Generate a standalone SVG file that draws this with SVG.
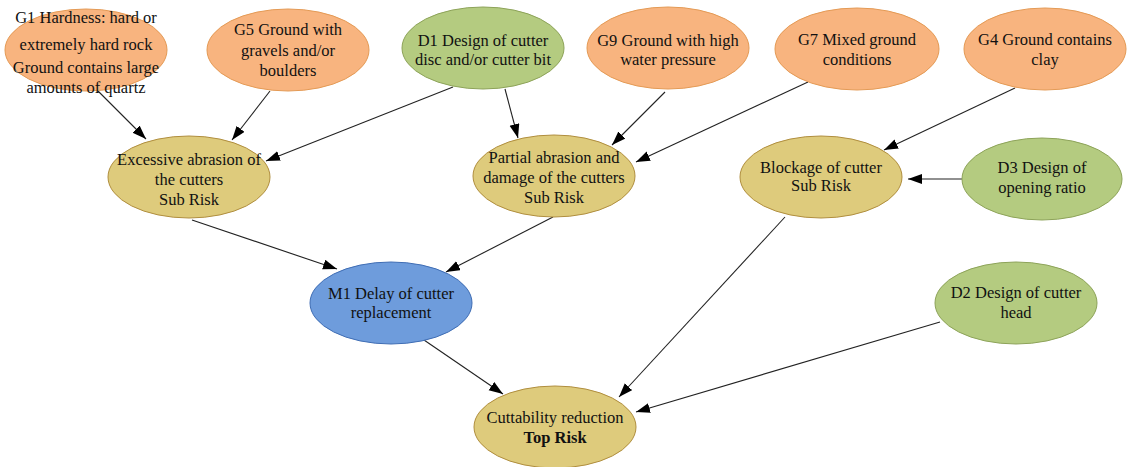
<svg xmlns="http://www.w3.org/2000/svg" width="1127" height="467" viewBox="0 0 1127 467">
<style>
text{font-family:'Liberation Serif','DejaVu Serif',serif;font-size:16.5px;fill:#111;text-anchor:middle}
.g{fill:#F8B47F;stroke:#E49A55;stroke-width:1}
.d{fill:#B4CB80;stroke:#8DA359;stroke-width:1}
.r{fill:#DECB7C;stroke:#B08E3E;stroke-width:1}
.m{fill:#6E9CDC;stroke:#3F6DB4;stroke-width:1}
.e{stroke:#222;stroke-width:1.1;fill:none;marker-end:url(#ah)}
</style>
<defs>
<marker id="ah" markerUnits="userSpaceOnUse" markerWidth="15" markerHeight="11" refX="14" refY="5" orient="auto">
<path d="M0,0 L14,5 L0,10 z" fill="#000"/>
</marker>
</defs>
<rect width="1127" height="467" fill="#fff"/>
<g id="connectors">
<line class="e" x1="97" y1="90" x2="146" y2="139"/>
<line class="e" x1="270" y1="91" x2="232" y2="140"/>
<line class="e" x1="453" y1="87" x2="266" y2="161"/>
<line class="e" x1="505" y1="89" x2="518" y2="138"/>
<line class="e" x1="665" y1="92" x2="612" y2="145"/>
<line class="e" x1="808" y1="82" x2="636" y2="162"/>
<line class="e" x1="1015" y1="88" x2="884" y2="150"/>
<line class="e" x1="962" y1="179" x2="908" y2="179"/>
<line class="e" x1="192" y1="220" x2="337" y2="269"/>
<line class="e" x1="553" y1="217" x2="446" y2="272"/>
<line class="e" x1="785" y1="217" x2="619" y2="397"/>
<line class="e" x1="424" y1="340" x2="503" y2="394"/>
<line class="e" x1="940" y1="322" x2="636" y2="412"/>
</g>
<g id="G1"><ellipse class="g" cx="86" cy="50" rx="81" ry="41"/>
<text x="86" y="23">G1 Hardness: hard or</text><text x="86" y="50">extremely hard rock</text><text x="86" y="73">Ground contains large</text><text x="86" y="93">amounts of quartz</text></g>
<g id="G5"><ellipse class="g" cx="288" cy="50" rx="81" ry="41"/>
<text x="288" y="35">G5 Ground with</text><text x="288" y="56">gravels and/or</text><text x="288" y="76">boulders</text></g>
<g id="D1"><ellipse class="d" cx="483" cy="48" rx="81" ry="41"/>
<text x="483" y="46">D1 Design of cutter</text><text x="483" y="65">disc and/or cutter bit</text></g>
<g id="G9"><ellipse class="g" cx="668" cy="48" rx="81" ry="41"/>
<text x="668" y="46">G9 Ground with high</text><text x="668" y="65">water pressure</text></g>
<g id="G7"><ellipse class="g" cx="857" cy="49" rx="82" ry="41"/>
<text x="857" y="45">G7 Mixed ground</text><text x="857" y="65">conditions</text></g>
<g id="G4"><ellipse class="g" cx="1045" cy="49" rx="81" ry="41"/>
<text x="1045" y="45">G4 Ground contains</text><text x="1045" y="65">clay</text></g>
<g id="SR1"><ellipse class="r" cx="189" cy="177" rx="81" ry="41"/>
<text x="189" y="165">Excessive abrasion of</text><text x="189" y="185">the cutters</text><text x="189" y="205">Sub Risk</text></g>
<g id="SR2"><ellipse class="r" cx="554" cy="176" rx="81" ry="41"/>
<text x="554" y="163">Partial abrasion and</text><text x="554" y="183">damage of the cutters</text><text x="554" y="203">Sub Risk</text></g>
<g id="SR3"><ellipse class="r" cx="821" cy="177" rx="81" ry="41"/>
<text x="821" y="173">Blockage of cutter</text><text x="821" y="191">Sub Risk</text></g>
<g id="D3"><ellipse class="d" cx="1042" cy="179" rx="80" ry="41"/>
<text x="1042" y="173">D3 Design of</text><text x="1042" y="193">opening ratio</text></g>
<g id="M1"><ellipse class="m" cx="391" cy="303" rx="81" ry="41"/>
<text x="391" y="299">M1 Delay of cutter</text><text x="391" y="318">replacement</text></g>
<g id="D2"><ellipse class="d" cx="1016" cy="303" rx="81" ry="41"/>
<text x="1016" y="298">D2 Design of cutter</text><text x="1016" y="318">head</text></g>
<g id="TOP"><ellipse class="r" cx="555" cy="427" rx="81" ry="41"/>
<text x="555" y="423">Cuttability reduction</text><text x="555" y="443" font-weight="bold">Top Risk</text></g>
</svg>
